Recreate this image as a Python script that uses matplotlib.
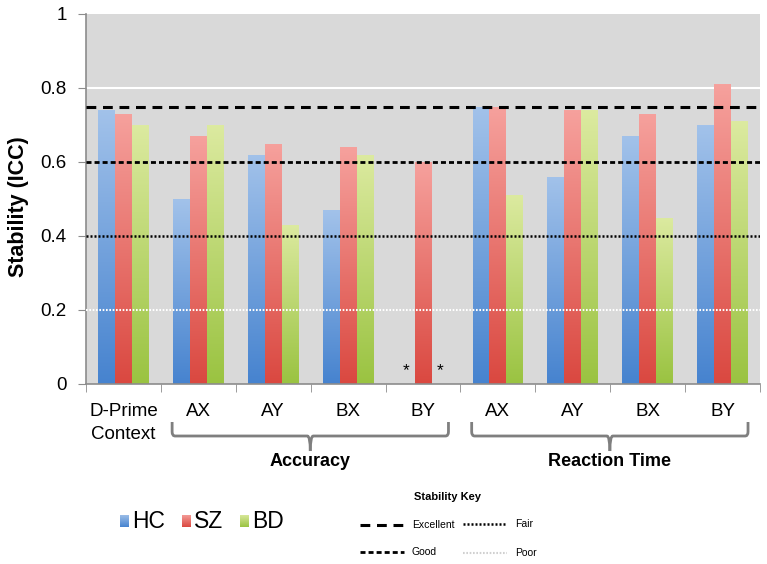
import numpy as np
import matplotlib
matplotlib.use("Agg")
import matplotlib.pyplot as plt
from matplotlib.colors import LinearSegmentedColormap
from matplotlib.path import Path
from matplotlib.patches import PathPatch
import matplotlib.transforms as mtransforms

plt.rcParams['font.family'] = ['Liberation Sans', 'DejaVu Sans']

# ---- data ----
categories = ["D-Prime\nContext", "AX", "AY", "BX", "BY", "AX", "AY", "BX", "BY"]
groups = ["HC", "SZ", "BD"]
hc = [0.74, 0.50, 0.62, 0.47, np.nan, 0.75, 0.56, 0.67, 0.70]
sz = [0.73, 0.67, 0.65, 0.64, 0.60, 0.75, 0.74, 0.73, 0.81]
bd = [0.70, 0.70, 0.43, 0.62, np.nan, 0.51, 0.74, 0.45, 0.71]
yticks = [0, 0.2, 0.4, 0.6, 0.8, 1.0]
ytick_labels = ["0", "0.2", "0.4", "0.6", "0.8", "1"]
thresholds = {"Excellent": 0.75, "Good": 0.6, "Fair": 0.4, "Poor": 0.2}
bracket_groups = [("Accuracy", 1, 4), ("Reaction Time", 5, 8)]

series = [hc, sz, bd]
bottom_cols = ["#4683CF", "#DA4840", "#9AC341"]
top_cols = ["#A2C2EA", "#F6A19D", "#DCEAA0"]

# line styles (color, lw, dashes)
styles = {"Excellent": ("black", 2.2, (3.2, 2.2)),
          "Good": ("black", 2.0, (1.8, 1.1)),
          "Fair": ("black", 1.8, (0.8, 0.8)),
          "Poor": ("white", 1.5, (0.8, 0.8))}

fig = plt.figure(figsize=(7.67, 5.64), dpi=100)
ax = fig.add_axes([86/767, 1-384/564, (760-86)/767, (384-14)/564])
ax.set_facecolor("#D9D9D9")

x = np.arange(len(categories))
width = 0.226
offsets = [-width, 0, width]

grad = np.linspace(0, 1, 256).reshape(-1, 1)
for vals, off, cb, ct in zip(series, offsets, bottom_cols, top_cols):
    cmap = LinearSegmentedColormap.from_list("g", [cb, ct])
    bars = ax.bar(x + off, np.nan_to_num(vals), width, color=cb, zorder=2, linewidth=0)
    for bar, v in zip(bars, vals):
        if np.isnan(v):
            continue
        x0, w, h = bar.get_x(), bar.get_width(), bar.get_height()
        im = ax.imshow(grad, cmap=cmap, origin="lower", aspect="auto",
                       extent=(x0, x0 + w, 0, h), zorder=2.5)
        im.set_clip_path(bar)

# stars for missing values
for vals, off in [(hc, offsets[0]), (bd, offsets[2])]:
    for i, v in enumerate(vals):
        if np.isnan(v):
            ax.text(i + off, 0.015, "*", ha="center", va="bottom", fontsize=12.5, zorder=4)

ax.set_xlim(-0.5, len(categories) - 0.5)
ax.set_ylim(0, 1)

# grid (only visible one)
ax.axhline(0.8, color="white", lw=1.5, zorder=1)

# threshold lines
for name, yv in thresholds.items():
    col, lw, dash = styles[name]
    ax.axhline(yv, color=col, lw=lw, dashes=dash, zorder=5)

# axes style
for s in ["top", "right"]:
    ax.spines[s].set_visible(False)
for s in ["left", "bottom"]:
    ax.spines[s].set_color("#8C8C8C")
    ax.spines[s].set_linewidth(1.2)
ax.set_yticks(yticks)
ax.set_yticklabels(ytick_labels, fontsize=13.5)
ax.tick_params(axis="y", length=6, color="#8C8C8C", pad=8)
ax.set_xticks(x)
ax.set_xticklabels(categories, fontsize=13.5, linespacing=1.45, va="top")
ax.tick_params(axis="x", length=0, pad=14)
ax.set_xticks(np.arange(-0.5, len(categories), 1.0), minor=True)
ax.tick_params(axis="x", which="minor", length=6, color="#8C8C8C")
ax.set_ylabel("Stability (ICC)", fontsize=15.5, fontweight="bold")
ax.yaxis.set_label_coords(-0.085, 0.48)

# brackets
trans = mtransforms.blended_transform_factory(ax.transData, fig.transFigure)
def bracket(xl, xr, label):
    ytop = 1 - 422/564
    ymid = 1 - 436/564
    ybot = 1 - 451/564
    r = 0.04
    rv = ytop - ymid
    xm = (xl + xr) / 2
    codes = [Path.MOVETO, Path.LINETO, Path.CURVE3, Path.CURVE3, Path.LINETO, Path.CURVE3, Path.CURVE3]
    for xe, sgn in ((xl, 1), (xr, -1)):
        vv = [(xe, ytop), (xe, ymid + rv*0.3), (xe, ymid), (xe + sgn*r, ymid),
              (xm - sgn*r, ymid), (xm, ymid), (xm, ybot)]
        p = PathPatch(Path(vv, codes), fill=False, edgecolor="#7F7F7F", lw=2,
                      transform=trans, clip_on=False)
        fig.add_artist(p)
    fig.text(xm, 1 - 461/564, label, transform=trans, ha="center", va="center",
             fontsize=13, fontweight="bold")

for label, i0, i1 in bracket_groups:
    bracket(i0 - 0.5 + 0.15, i1 + 0.5 - 0.16, label)

# group legend
fig_w, fig_h = 767, 564
def fx(px): return px / fig_w
def fy(py): return 1 - py / fig_h
leg_x = [120, 182, 240]
for lx, name, cb, ct in zip(leg_x, groups, bottom_cols, top_cols):
    cmap = LinearSegmentedColormap.from_list("g", [cb, ct])
    axi = fig.add_axes([fx(lx), fy(527), fx(9), 12/fig_h])
    axi.imshow(grad, cmap=cmap, origin="lower", aspect="auto")
    axi.set_axis_off()
    fig.text(fx(lx + 12), fy(521), name, fontsize=16.5, va="center", ha="left")

# stability key
fig.text(fx(448), fy(497), "Stability Key", fontsize=8, fontweight="bold",
         ha="center", va="center")
key = [("Excellent", 360, 525), ("Good", 360, 552), ("Fair", 463, 524), ("Poor", 463, 553)]
for name, lx, ly in key:
    col, lw, dash = styles[name]
    if name == "Poor":
        col = "#D0D0D0"
    line = plt.Line2D([fx(lx), fx(lx + 44)], [fy(ly), fy(ly)], transform=fig.transFigure,
                      color=col, lw=lw, dashes=dash)
    fig.add_artist(line)
    fig.text(fx(lx + 52), fy(ly), name, fontsize=7.5, va="center", ha="left")

fig.savefig("out.png", dpi=100)
